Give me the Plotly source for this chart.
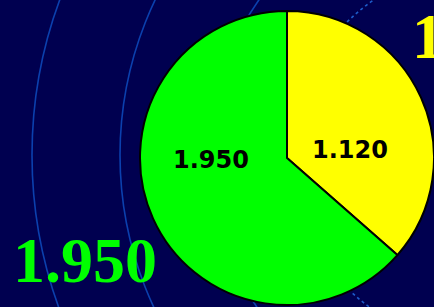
import plotly.graph_objects as go

# Data
labels = ["B", "A"]
values = [1.120, 1.950]
value_text = ["1.120", "1.950"]
slice_colors = ["#FFFF00", "#00FF00"]
big_texts = ["1.950", "1.120"]

W, H = 434, 307
BG = "#000050"

def px_circle(cx, cy, r, color, width, dash="solid"):
    return dict(
        type="circle", xref="paper", yref="paper", layer="below",
        x0=(cx - r) / W, x1=(cx + r) / W,
        y0=1 - (cy + r) / H, y1=1 - (cy - r) / H,
        line=dict(color=color, width=width, dash=dash),
    )

fig = go.Figure(
    go.Pie(
        labels=labels,
        values=values,
        textinfo="none",
        sort=False,
        direction="clockwise",
        rotation=0,
        marker=dict(colors=slice_colors, line=dict(color="black", width=2)),
        domain=dict(x=[140 / W, 1.0], y=[1 - 306 / H, 1 - 10 / H]),
        showlegend=False,
        hoverinfo="skip",
    )
)

shapes = [
    px_circle(480, 155, 448, "#0B40AE", 1.6),
    px_circle(480, 155, 360, "#0B40AE", 1.6),
    px_circle(480, 155, 270, "#0B40AE", 1.6),
    px_circle(480, 155, 188, "#1D5BC9", 1.6, dash="dot"),
]

label_pos = [(350, 150), (211, 160)]
annotations = []
for t, (lx, ly) in zip(value_text, label_pos):
    annotations.append(dict(
        text=t, x=lx / W, y=1 - ly / H, xref="paper", yref="paper",
        xanchor="center", yanchor="middle", showarrow=False,
        font=dict(family="DejaVu Sans", size=24, color="black", weight="bold")))

annotations += [
    dict(text=big_texts[0], x=11 / W, y=1 - 260.5 / H, xref="paper", yref="paper",
         xanchor="left", yanchor="middle", showarrow=False,
         font=dict(family="Liberation Serif", size=64, color="#00FF00", weight="bold")),
    dict(text=big_texts[1], x=410 / W, y=1 - 36.5 / H, xref="paper", yref="paper",
         xanchor="left", yanchor="middle", showarrow=False,
         font=dict(family="Liberation Serif", size=64, color="#FFFF00", weight="bold")),
]

fig.update_layout(
    width=W, height=H,
    margin=dict(l=0, r=0, t=0, b=0),
    paper_bgcolor=BG, plot_bgcolor=BG,
    shapes=shapes,
    annotations=annotations,
)

fig.write_html(
    "out.html",
    config={"displayModeBar": False},
    post_script="document.body.style.margin='0';document.body.style.background='#000050';",
)
